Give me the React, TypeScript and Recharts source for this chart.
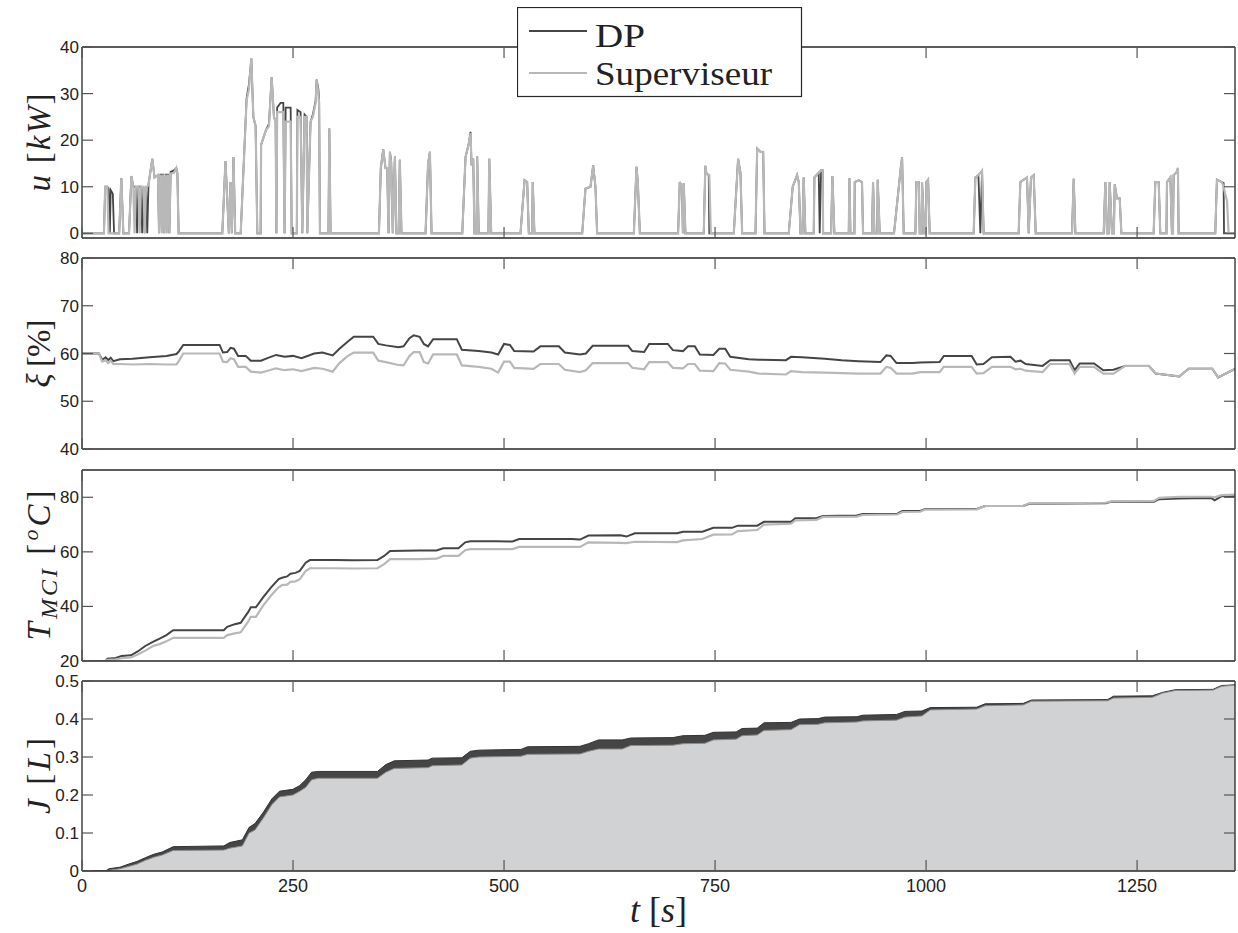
import React from "react";
import { ComposedChart, Line, Area, XAxis, YAxis } from "recharts";

const T_MAX = 1366;
const X_TICKS = [0, 250, 500, 750, 1000, 1250];

// u [kW] : rows grouped by burst so the three arrays stay aligned
const U_T = [
  0, 26, 27.5, 30, 31.5, 33, 34, 36.5, 38,
  44, 46.6, 49,
  55.7, 58.5, 60.8, 62.3, 63.8, 65.3, 66.8, 68.3, 69.8, 71.3, 72.8, 74.3, 75.8, 77.3, 78.8,
  83.3, 86, 90, 91.3, 93, 94.5, 96, 97.5, 99, 100.5, 102, 103.5, 105, 109, 111.7, 113, 114.5,
  166.2, 170, 174, 176, 177.5, 179.5, 181.5,
  188, 195, 197.8, 200.6, 203, 205.7, 207.7,
  211.6, 212.2, 217.6, 221.5, 224.7, 227.4, 229.4, 230.3, 231.2, 235.3, 238.5, 240, 241.3, 247.2, 248.4,
  254.5, 255.2, 259, 261, 263.7, 266.1, 266.9, 270.8, 273.5, 276.8, 278, 280, 280.9, 281.9, 292, 293, 294.5,
  351.8, 354, 356.9, 359.6, 361.6, 363.2, 364.8, 366.3, 368.2, 370.7, 372.5, 375.3, 376.5, 378.5, 407, 410, 412.2, 414.1,
  450.5, 454.4, 458, 460.3, 461.5, 463.5, 465, 467.5, 468.2, 470, 481.5, 482.5, 484.8,
  519.5, 524.3, 527.4, 529.4, 533.3, 534, 536,
  592.6, 596.5, 602.4, 605.6, 608.3, 610.3, 653.8, 656.9, 658.5, 660.9,
  706.2, 708.2, 710.9, 711.9, 712.9, 714.9, 736.6, 738.5, 739.8, 742.5, 743.2, 745,
  772.2, 777.3, 780.1, 782.1, 797.9, 799.9, 803.8, 807, 808.6,
  837.3, 842, 847.2, 849.2, 851.2, 853.5, 855, 857, 866.9, 867.7, 872.8, 874, 875.6, 877.5, 878,
  887.5, 889, 891.4, 908.4, 909.2, 910.4, 915.1, 915.5, 920.2, 924.1, 925.3, 936, 937.2, 938.8, 942.2, 942.7, 945.1,
  962, 970, 971.6, 973.5, 987.3, 988.5, 991.3, 992.5, 994.8, 995.2, 998, 999.8, 1000.4, 1002.4, 1004.3,
  1056.4, 1058.4, 1062, 1064.3, 1066.3, 1068.2, 1109.7, 1111.7, 1115.6, 1119.6, 1121.6, 1124.3, 1127.5, 1129.9,
  1172.9, 1174.9, 1176.9, 1210.4, 1212.4, 1214.4, 1216.5, 1217.5, 1220.3, 1222.5, 1223.5, 1226.2, 1229.4, 1231.4,
  1269.6, 1271.6, 1275.6, 1277.5, 1284.8, 1285.4, 1287.4, 1289.4, 1291.3, 1292.5, 1293.3, 1296.5, 1298.4, 1299.2,
  1342.6, 1344.6, 1350.5, 1352.5, 1353, 1356.5, 1358.4, 1366,
];
const U_SUP = [
  0, 0, 10, 10, 0, 0, 0, 0, 0,
  0, 11.8, 0,
  0, 12.3, 10, 0, 10, 10, 10, 0, 10, 10, 10, 0, 10, 10, 10.5,
  16, 12, 12.5, 0, 12.6, 0, 12.6, 0, 12.6, 0, 12.6, 0, 12.8, 13, 14, 12.5, 0,
  0, 15.5, 0, 11, 0, 16.4, 0,
  0, 28.5, 31, 37.5, 25, 23, 0,
  0, 19, 22, 23, 33.5, 25, 24, 0, 26, 26, 26, 0, 24, 24, 0,
  0, 25, 25, 0, 25, 25, 0, 24, 25, 28, 33, 30, 28, 0, 0, 22.5, 0,
  0, 14, 18, 14, 14, 0, 17.5, 15, 0, 16.5, 0, 0, 15.8, 0, 0, 15, 17.5, 0,
  0, 16.4, 19, 21.5, 14.6, 16, 0, 0, 16.5, 0, 0, 16, 0,
  0, 11.4, 11, 0, 0, 11, 0,
  0, 9.6, 10, 14.6, 10, 0, 0, 14.3, 11, 0,
  0, 11, 10, 0, 10.8, 0, 0, 14.5, 12.8, 12.5, 12.5, 0,
  0, 16, 13, 0, 0, 18.2, 17.5, 17.5, 0,
  0, 10, 12.5, 11, 0, 0, 12, 0, 0, 12, 13, 13.2, 13.5, 13.5, 0,
  0, 12.3, 0, 0, 11.8, 0, 0, 11, 11.4, 11, 0, 0, 11, 0, 0, 11.5, 0,
  0, 14, 16.3, 0, 0, 11, 11, 0, 0, 11, 0, 0, 11, 11.5, 0,
  0, 12, 12.5, 13, 13.5, 0, 0, 11, 11.5, 12, 0, 12, 12.5, 0,
  0, 11.7, 0, 0, 11, 0, 0, 11, 0, 0, 10.5, 7.5, 7.5, 0,
  0, 11, 11, 0, 0, 11, 11.5, 12, 0, 0, 12.5, 13, 14, 0,
  0, 11.5, 11, 10, 9.5, 7, 0, 0,
];
const U_DP = [
  0, 0, 10, 10, 9.5, 0, 9.3, 8.5, 0,
  0, 11.8, 0,
  0, 12.3, 10, 10, 10, 0, 10, 10, 10, 0, 10, 0, 10, 0, 10.5,
  16, 12, 12.5, 0, 12.6, 12.6, 12.6, 0, 12.6, 12.6, 12.6, 0, 13.2, 13.5, 14, 13, 0,
  0, 15.5, 0, 11, 0, 16.4, 0,
  0, 29, 32, 37.5, 25, 23, 0,
  0, 19, 22, 23.5, 33.5, 25, 24, 0, 27, 28, 28, 0, 27, 27, 0,
  0, 26.5, 26, 0, 25.5, 25, 0, 24, 25.5, 28.5, 33, 31, 29, 0, 0, 22.5, 0,
  0, 14, 18, 14, 14, 0, 17.5, 15.5, 0, 16.5, 0, 0, 15.8, 0, 0, 15, 17.5, 0,
  0, 16.4, 19, 21.8, 14.6, 16, 0, 0, 16.5, 0, 0, 16, 0,
  0, 11.4, 11, 0, 0, 11, 0,
  0, 9.6, 10, 14.6, 10, 0, 0, 14.3, 11, 0,
  0, 11, 10, 0, 10.8, 0, 0, 14.5, 12.8, 12.5, 0, 0,
  0, 16, 13, 0, 0, 18.2, 17.5, 17.5, 0,
  0, 10, 12.5, 11, 0, 0, 12, 0, 0, 12, 13, 0, 13.5, 13.5, 0,
  0, 12.3, 0, 0, 11.8, 0, 0, 11, 11.4, 11, 0, 0, 11, 0, 0, 11.5, 0,
  0, 14, 16.3, 0, 0, 11, 11, 0, 0, 11, 0, 0, 11, 11.5, 0,
  0, 12, 12.5, 0, 13.5, 0, 0, 11, 11.5, 12, 0, 12, 12.5, 0,
  0, 11.7, 0, 0, 11, 0, 0, 11, 0, 0, 10.5, 7.5, 7.5, 0,
  0, 11, 11, 0, 0, 11, 11.5, 12, 0, 0, 12.5, 13, 14, 0,
  0, 11.5, 11, 10.8, 0, 0, 0, 0,
];

// xi [%]
const XI_T = [
  0, 20, 24, 28, 31, 34, 37, 45, 60, 80, 100, 112, 115, 120, 163, 167, 172, 176, 180, 185,
  194, 200, 212, 222, 230, 240, 250, 260, 275, 285, 297, 305, 315, 322, 345, 351, 360, 375, 381, 388,
  393, 400, 405, 410, 416, 444, 450, 470, 485, 493, 500, 507, 512, 535, 543, 565, 572, 590, 597, 605,
  647, 652, 666, 672, 694, 700, 712, 718, 726, 732, 748, 755, 762, 768, 790, 802, 834, 840, 853, 880,
  900, 920, 946, 953, 958, 965, 984, 993, 1016, 1021, 1054, 1060, 1068, 1078, 1100, 1106, 1112, 1118, 1138, 1147,
  1170, 1176, 1182, 1199, 1210, 1222, 1236, 1264, 1272, 1300, 1311, 1339, 1346, 1366,
];
const XI_DP = [
  60, 60, 58.7, 59.2, 58.6, 59.1, 58.4, 58.8, 58.9, 59.2, 59.5, 59.9, 60.5, 61.8, 61.8, 60.2, 60.3, 61.2, 61, 59.5,
  59.5, 58.5, 58.5, 59.2, 59.7, 59.3, 59.5, 59, 60, 60.2, 59.6, 61, 62.5, 63.5, 63.5, 62, 61.7, 61.3, 61.5, 63.2,
  63.8, 63.5, 62, 61.5, 63, 63, 60.8, 60.5, 60.2, 59.8, 62, 61.8, 60.5, 60.4, 61.5, 61.5, 60.2, 59.8, 60, 61.6,
  61.6, 60.5, 60.3, 62, 62, 60.7, 60.5, 61.5, 61.5, 59.8, 59.7, 61, 61, 59.3, 58.8, 58.7, 58.6, 59.3, 59.2, 58.9,
  58.6, 58.4, 58.2, 59.6, 59.5, 58, 58, 58.1, 58.2, 59.5, 59.5, 57.7, 57.8, 59.2, 59.3, 58.3, 58.5, 57.8, 57.4, 58.6,
  58.6, 56.5, 57.9, 57.9, 56.5, 56.6, 57.4, 57.4, 55.8, 55.2, 56.8, 56.8, 55, 56.8,
];
const XI_SUP = [
  60, 60, 58.3, 58.6, 58, 58.5, 57.8, 57.8, 57.7, 57.8, 57.7, 57.7, 58.5, 60, 60, 58.3, 58.2, 59, 58.8, 57.2,
  57.2, 56.2, 56, 56.5, 56.9, 56.5, 56.7, 56.3, 57, 56.8, 56.2, 58, 59.5, 60.2, 60.2, 58.5, 58.2, 57.6, 57.5, 59.5,
  60.3, 60.3, 58.2, 57.9, 59.8, 59.8, 57.5, 57.2, 56.8, 56, 58.3, 58.3, 57, 56.8, 57.8, 57.8, 56.6, 56.1, 56.5, 58,
  58, 57, 56.7, 58.2, 58.2, 57, 56.9, 57.8, 57.8, 56.4, 56.3, 58, 57.9, 56.6, 56.2, 55.8, 55.6, 56.3, 56.1, 56,
  55.9, 55.8, 55.8, 57.2, 57, 55.8, 55.8, 56.1, 56.1, 57.2, 57.2, 55.8, 55.9, 57.2, 57.2, 56.7, 56.8, 56.4, 56.1, 57.8,
  57.8, 55.8, 57.2, 57.2, 55.8, 55.8, 57.4, 57.4, 55.8, 55.2, 56.8, 56.8, 55, 56.8,
];

// T_MCI [oC]
const TM_T = [
  0, 28, 30, 40, 47, 58, 66, 75, 84, 92, 100, 108, 168, 172, 181, 188, 197, 200, 206, 215,
  224, 233, 237, 243, 247, 253, 258, 265, 270, 300, 320, 350, 358, 365, 400, 420, 428, 446, 454, 460,
  490, 510, 518, 580, 590, 600, 638, 645, 655, 705, 712, 735, 748, 770, 777, 800, 808, 840, 845, 870,
  878, 918, 925, 966, 972, 993, 999, 1060, 1070, 1115, 1122, 1213, 1220, 1270, 1276, 1300, 1338, 1342, 1350, 1366,
];
const TM_DP = [
  20, 20, 20.8, 21.1, 21.8, 22.1, 23.5, 25.5, 27, 28.2, 29.5, 31.3, 31.3, 32.5, 33.5, 34, 38, 39.7, 39.7, 43.5,
  47, 50, 50.5, 51, 52, 52.3, 53, 56, 57, 57, 56.9, 57, 58.5, 60.3, 60.5, 60.5, 61.3, 61.3, 63.5, 63.9,
  63.9, 63.8, 64.7, 64.7, 64.5, 66, 66.1, 65.6, 66.8, 66.8, 67.4, 67.4, 68.8, 68.8, 69.6, 69.6, 71, 71, 72.3, 72.3,
  73.1, 73.3, 73.9, 74, 75, 75, 75.7, 75.7, 76.8, 76.8, 77.6, 77.8, 78.4, 78.4, 79.3, 79.6, 79.7, 78.9, 80.4, 80.5,
];
const TM_SUP = [
  20, 20, 20.4, 20.6, 21, 21.3, 22.4, 23.8, 25.5, 26.2, 27.2, 28.5, 28.5, 29.5, 30.1, 30.5, 34.5, 36.2, 36.2, 40.5,
  44, 47, 47.8, 48, 49, 49.2, 50, 53, 54, 54, 53.9, 54, 55.5, 57.3, 57.3, 57.5, 58.5, 58.5, 60.6, 61,
  61, 61, 61.8, 61.8, 61.8, 63.5, 63.3, 63.2, 63.7, 63.6, 64.2, 64.7, 66.3, 66.4, 67.6, 68, 70, 70.3, 71.5, 71.7,
  72.8, 72.9, 73.5, 73.7, 74.6, 74.7, 75.5, 75.6, 76.8, 76.8, 77.8, 78, 78.6, 78.7, 79.8, 80.2, 80.2, 80, 80.8, 81,
];

// J [L]
const J_T = [
  0, 28, 32, 45, 55, 65, 75, 85, 95, 108, 168, 175, 190, 198, 205, 215, 225, 234, 250, 258,
  265, 272, 280, 350, 360, 370, 410, 415, 450, 460, 470, 520, 528, 590, 600, 612, 640, 650, 700, 712,
  738, 748, 775, 782, 800, 808, 840, 850, 872, 880, 918, 925, 965, 975, 995, 1005, 1060, 1070, 1115, 1125,
  1215, 1222, 1268, 1280, 1295, 1340, 1350, 1366,
];
const J_DP = [
  0, 0, 0.006, 0.01, 0.018, 0.025, 0.035, 0.044, 0.05, 0.064, 0.066, 0.075, 0.082, 0.115, 0.125, 0.155, 0.19, 0.21, 0.215, 0.225,
  0.24, 0.26, 0.262, 0.262, 0.28, 0.29, 0.292, 0.297, 0.298, 0.315, 0.318, 0.32, 0.327, 0.328, 0.335, 0.345, 0.345, 0.35, 0.351, 0.356,
  0.357, 0.365, 0.366, 0.375, 0.376, 0.39, 0.391, 0.4, 0.401, 0.405, 0.406, 0.41, 0.412, 0.42, 0.421, 0.43, 0.431, 0.44, 0.441, 0.45,
  0.451, 0.46, 0.461, 0.47, 0.477, 0.478, 0.488, 0.49,
];
const J_SUP = [
  0, 0, 0.002, 0.006, 0.012, 0.018, 0.028, 0.036, 0.042, 0.054, 0.055, 0.06, 0.066, 0.1, 0.108, 0.14, 0.175, 0.195, 0.2, 0.21,
  0.22, 0.24, 0.244, 0.244, 0.26, 0.27, 0.272, 0.277, 0.279, 0.297, 0.3, 0.302, 0.307, 0.308, 0.315, 0.321, 0.321, 0.33, 0.331, 0.335,
  0.336, 0.345, 0.347, 0.356, 0.358, 0.37, 0.372, 0.385, 0.386, 0.39, 0.392, 0.395, 0.397, 0.405, 0.408, 0.424, 0.426, 0.435, 0.437, 0.447,
  0.448, 0.455, 0.457, 0.468, 0.475, 0.476, 0.486, 0.489,
];

const U_TICKS = [0, 10, 20, 30, 40];
const XI_TICKS = [40, 50, 60, 70, 80];
const TM_TICKS = [20, 40, 60, 80];
const J_TICKS = [0, 0.1, 0.2, 0.3, 0.4, 0.5];

const SANS = "'Liberation Sans', Arial, Helvetica, sans-serif";
const SERIF = "'Liberation Serif', 'Times New Roman', serif";
const INK = "#222";
const FRAME = "#262626";
const TICK = "#555";
const DARK = "#454545";
const LIGHT = "#b8b8b8";
const PALE = "#d1d2d4";
const AXIS_LINE = { stroke: FRAME, strokeWidth: 1.3 };

const zip = (ts: number[], dp: number[], sup: number[]) =>
  ts.map((t, i) => ({ t, dp: dp[i], sup: sup[i] }));

const uData = zip(U_T, U_DP, U_SUP);
const xiData = zip(XI_T, XI_DP, XI_SUP);
const tmData = zip(TM_T, TM_DP, TM_SUP);
const jData = zip(J_T, J_DP, J_SUP);

const LeftTick = (p: any) => {
  const ax = p.x + 3;
  return (
    <g>
      <line x1={ax} x2={ax + 11} y1={p.y} y2={p.y} stroke={TICK} strokeWidth={1.2} />
      <text x={p.x} y={p.y} dy={6} textAnchor="end" fontFamily={SANS} fontSize={17} fill={INK}>
        {p.payload.value}
      </text>
    </g>
  );
};

const RightTick = (p: any) => (
  <line x1={p.x - 11} x2={p.x} y1={p.y} y2={p.y} stroke={TICK} strokeWidth={1.2} />
);

const TopTick = (p: any) => (
  <line x1={p.x} x2={p.x} y1={p.y} y2={p.y + 11} stroke={TICK} strokeWidth={1.2} />
);

const BottomTick = (p: any) => (
  <line x1={p.x} x2={p.x} y1={p.y - 11} y2={p.y} stroke={TICK} strokeWidth={1.2} />
);

const BottomTickLabeled = (p: any) => (
  <g>
    <line x1={p.x} x2={p.x} y1={p.y - 11} y2={p.y} stroke={TICK} strokeWidth={1.2} />
    <text x={p.x} y={p.y + 21} textAnchor="middle" fontFamily={SANS} fontSize={18} fill={INK}>
      {p.payload.value}
    </text>
  </g>
);

const it = { fontStyle: "italic" as const };

// rotated axis titles, with the length each one takes in the figure
const Y_LABELS: Record<string, { len: number; body: React.ReactNode }> = {
  u: {
    len: 98,
    body: (
      <>
        <tspan {...it}>u</tspan>
        <tspan> [</tspan>
        <tspan {...it}>kW</tspan>
        <tspan>]</tspan>
      </>
    ),
  },
  xi: {
    len: 68,
    body: (
      <>
        <tspan {...it}>ξ</tspan>
        <tspan> [%]</tspan>
      </>
    ),
  },
  tm: {
    len: 150,
    body: (
      <>
        <tspan {...it}>T</tspan>
        <tspan {...it} fontSize={24} dy={7}>MCI</tspan>
        <tspan dy={-7}> [</tspan>
        <tspan {...it} fontSize={22} dy={-12}>o</tspan>
        <tspan {...it} dy={12}>C</tspan>
        <tspan>]</tspan>
      </>
    ),
  },
  j: {
    len: 76,
    body: (
      <>
        <tspan {...it}>J</tspan>
        <tspan> [</tspan>
        <tspan {...it}>L</tspan>
        <tspan>]</tspan>
      </>
    ),
  },
};

type PanelProps = {
  top: number;
  plotH: number;
  data: any[];
  yDomain: [number, number];
  yTicks: number[];
  label: string;
  last?: boolean;
  children: React.ReactNode;
};

function Panel({ top, plotH, data, yDomain, yTicks, label, last, children }: PanelProps) {
  const bottomH = last ? 60 : 1;
  const height = 10 + plotH + bottomH + (last ? 0 : 9);
  const title = Y_LABELS[label];
  return (
    <div style={{ position: "absolute", left: 0, top: top - 10, width: 1238, height }}>
      <ComposedChart
        width={1238}
        height={height}
        data={data}
        margin={{ top: 9, right: 0, bottom: last ? 0 : 9, left: 0 }}
      >
        <XAxis
          dataKey="t"
          type="number"
          domain={[0, T_MAX]}
          ticks={X_TICKS}
          interval={0}
          allowDataOverflow
          height={bottomH}
          tickSize={0}
          tickMargin={0}
          tickLine={false}
          axisLine={AXIS_LINE}
          tick={last ? BottomTickLabeled : BottomTick}
          label={
            last
              ? {
                  content: (p: any) => {
                    const vb = p.viewBox;
                    return (
                      <text
                        x={vb.x + vb.width / 2}
                        y={vb.y + 51}
                        textAnchor="middle"
                        fontFamily={SERIF}
                        fontSize={36}
                        fill={INK}
                      >
                        <tspan {...it}>t</tspan>
                        <tspan> [</tspan>
                        <tspan {...it}>s</tspan>
                        <tspan>]</tspan>
                      </text>
                    );
                  },
                }
              : undefined
          }
        />
        <XAxis
          xAxisId="top"
          orientation="top"
          dataKey="t"
          type="number"
          domain={[0, T_MAX]}
          ticks={X_TICKS}
          interval={0}
          allowDataOverflow
          height={1}
          tickSize={0}
          tickMargin={0}
          tickLine={false}
          axisLine={AXIS_LINE}
          tick={TopTick}
        />
        <YAxis
          type="number"
          domain={yDomain}
          ticks={yTicks}
          interval={0}
          allowDataOverflow
          width={82}
          tickSize={0}
          tickMargin={3}
          tickLine={false}
          axisLine={AXIS_LINE}
          tick={LeftTick}
          label={{
            content: (p: any) => {
              const vb = p.viewBox;
              const cy = vb.y + vb.height / 2;
              return (
                <text
                  x={50}
                  y={cy}
                  transform={`rotate(-90 50 ${cy})`}
                  textAnchor="middle"
                  fontFamily={SERIF}
                  fontSize={33}
                  fill={INK}
                  textLength={title.len}
                  lengthAdjust="spacing"
                >
                  {title.body}
                </text>
              );
            },
          }}
        />
        <YAxis
          yAxisId="right"
          orientation="right"
          type="number"
          domain={yDomain}
          ticks={yTicks}
          interval={0}
          allowDataOverflow
          width={3}
          tickSize={0}
          tickMargin={0}
          tickLine={false}
          axisLine={AXIS_LINE}
          tick={RightTick}
        />
        {children}
      </ComposedChart>
    </div>
  );
}

function LegendBox() {
  return (
    <div style={{ position: "absolute", left: 517, top: 7, width: 286, height: 91, zIndex: 5 }}>
      <svg width={286} height={91}>
        <rect x={0.5} y={0.5} width={284} height={89} fill="#fff" stroke={FRAME} strokeWidth={1.2} />
        <line x1={12} x2={70} y1={24} y2={24} stroke={DARK} strokeWidth={2} />
        <line x1={12} x2={70} y1={66} y2={66} stroke={LIGHT} strokeWidth={2.2} />
        <text x={78} y={39.5} fontFamily={SERIF} fontSize={34} fill={INK} textLength={50} lengthAdjust="spacingAndGlyphs">
          DP
        </text>
        <text x={78} y={77.5} fontFamily={SERIF} fontSize={34} fill={INK} textLength={177} lengthAdjust="spacingAndGlyphs">
          Superviseur
        </text>
      </svg>
    </div>
  );
}

export default function App() {
  return (
    <div style={{ position: "absolute", left: 0, top: 0, width: 1238, height: 933, background: "#fff" }}>
      <Panel top={47} plotH={191} data={uData} yDomain={[-1, 40]} yTicks={U_TICKS} label="u">
        <Line dataKey="dp" type="linear" stroke={DARK} strokeWidth={1.8} dot={false} isAnimationActive={false} />
        <Line dataKey="sup" type="linear" stroke={LIGHT} strokeWidth={2.2} dot={false} isAnimationActive={false} />
      </Panel>
      <Panel top={258} plotH={191} data={xiData} yDomain={[40, 80]} yTicks={XI_TICKS} label="xi">
        <Line dataKey="dp" type="linear" stroke={DARK} strokeWidth={2} dot={false} isAnimationActive={false} />
        <Line dataKey="sup" type="linear" stroke={LIGHT} strokeWidth={2.2} dot={false} isAnimationActive={false} />
      </Panel>
      <Panel top={470} plotH={191} data={tmData} yDomain={[20, 90]} yTicks={TM_TICKS} label="tm">
        <Line dataKey="dp" type="linear" stroke={DARK} strokeWidth={2} dot={false} isAnimationActive={false} />
        <Line dataKey="sup" type="linear" stroke={LIGHT} strokeWidth={2.2} dot={false} isAnimationActive={false} />
      </Panel>
      <Panel top={681} plotH={190} data={jData} yDomain={[0, 0.5]} yTicks={J_TICKS} label="j" last>
        <Area dataKey="dp" type="linear" stroke="#333" strokeWidth={1} fill={DARK} fillOpacity={1} isAnimationActive={false} />
        <Area dataKey="sup" type="linear" stroke="#8c8c8c" strokeWidth={1} fill={PALE} fillOpacity={1} isAnimationActive={false} />
      </Panel>
      <LegendBox />
    </div>
  );
}
